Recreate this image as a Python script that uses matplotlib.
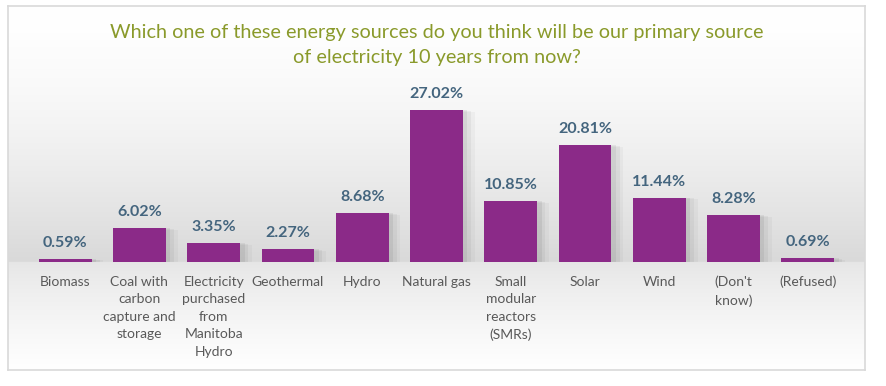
import numpy as np
import matplotlib.pyplot as plt

categories = ["Biomass", "Coal with\ncarbon\ncapture and\nstorage",
              "Electricity\npurchased\nfrom\nManitoba\nHydro", "Geothermal",
              "Hydro", "Natural gas", "Small\nmodular\nreactors\n(SMRs)",
              "Solar", "Wind", "(Don't\nknow)", "(Refused)"]
values = [0.59, 6.02, 3.35, 2.27, 8.68, 27.02, 10.85, 20.81, 11.44, 8.28, 0.69]
title = "Which one of these energy sources do you think will be our primary source\nof electricity 10 years from now?"

plt.rcParams['font.family'] = ['Lato', 'DejaVu Sans']

W, H = 887, 386
fig = plt.figure(figsize=(W / 100, H / 100), dpi=100)
fig.patch.set_facecolor('white')

# background panel with vertical gradient
bg = fig.add_axes([8 / W, 1 - 370 / H, 857 / W, 364 / H])
ys = np.linspace(0, 1, 400)  # 0 = top, 1 = bottom
base = (262 - 6) / 364
shade = np.where(ys < base,
                 1.0 - 0.15 * (ys / base) ** 1.6,
                 0.90 + 0.10 * ((ys - base) / (1 - base)) ** 0.8)
grad = np.repeat(shade[:, None], 2, axis=1)
bg.imshow(np.dstack([grad, grad, grad]), aspect='auto', extent=[0, 1, 0, 1])
bg.set_xticks([])
bg.set_yticks([])
for s in bg.spines.values():
    s.set_color('#d9d9d9')
    s.set_linewidth(1.2)

fig.text(437 / W, 1 - 45 / H, title, ha='center', va='center', fontsize=14.3,
         color='#8a9a2b', linespacing=1.55)

ax = fig.add_axes([28 / W, 1 - 262 / H, 817 / W, 170 / H])
ax.patch.set_alpha(0)
x = np.arange(len(values))
# soft shadow
for k, a in enumerate([0.06, 0.045, 0.03]):
    ax.bar(x + 0.06 + 0.05 * k, values, width=0.71, bottom=-0.15 * k,
           color='black', alpha=a, zorder=1)
ax.bar(x, values, width=0.71, color='#8b2a88', zorder=3)
for xi, v in zip(x, values):
    ax.text(xi, v + 1.6, f"{v:.2f}%", ha='center', va='bottom', fontsize=11.5,
            fontweight='bold', color='#44657e')
ax.set_xlim(-0.5, len(values) - 0.5)
ax.set_ylim(0, 30.2)
ax.set_yticks([])
ax.set_xticks(x)
ax.set_xticklabels(categories, fontsize=10, color='#595959', linespacing=1.55)
ax.tick_params(axis='x', length=0, pad=10)
for s in ax.spines.values():
    s.set_visible(False)

fig.savefig('out.png', dpi=100)
